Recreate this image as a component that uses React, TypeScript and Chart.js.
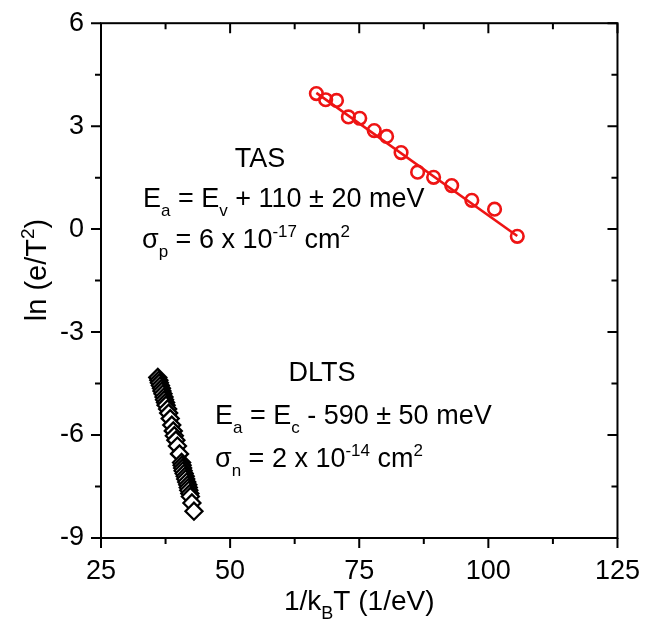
import React, { useEffect, useRef } from "react";
import { Chart, registerables } from "chart.js";

Chart.register(...registerables);

// ---- data ----
const tasX = [66.7, 68.5, 70.6, 72.9, 75.1, 77.9, 80.3, 83.1, 86.3, 89.4, 92.9, 96.8, 101.2, 105.6];
const tasY = [3.95, 3.77, 3.75, 3.27, 3.23, 2.87, 2.7, 2.23, 1.66, 1.51, 1.27, 0.84, 0.58, -0.21];
const tasFitX = [66.7, 105.6];
const tasFitY = [3.97, -0.2];
const dltsX = [36.0, 36.2, 36.3, 36.5, 36.7, 36.8, 37.0, 37.2, 37.3, 37.5, 37.6, 37.9, 38.1, 38.4, 38.7, 39.0, 39.2, 39.5, 39.8, 40.2, 40.6, 40.7, 40.8, 40.9, 41.1, 41.3, 41.4, 41.6, 41.8, 41.9, 42.0, 42.2, 42.3, 42.6, 43.0];
const dltsY = [-4.32, -4.4, -4.48, -4.56, -4.64, -4.72, -4.8, -4.89, -4.97, -5.05, -5.13, -5.24, -5.36, -5.52, -5.71, -5.88, -6.02, -6.15, -6.32, -6.55, -6.8, -6.88, -6.96, -7.04, -7.12, -7.2, -7.28, -7.37, -7.45, -7.53, -7.61, -7.7, -7.79, -7.98, -8.22];
const xTicks = [25, 50, 75, 100, 125];
const yTicks = [-9, -6, -3, 0, 3, 6];

const FONT = "'Liberation Sans', Arial, Helvetica, sans-serif";

type Seg = { t: string; k?: "sub" | "sup" };

function drawRich(ctx: CanvasRenderingContext2D, x: number, y: number, segs: Seg[], size: number, small: number, align: "left" | "center") {
  const fontOf = (s: Seg) => `${s.k ? small : size}px ${FONT}`;
  let total = 0;
  for (const s of segs) {
    ctx.font = fontOf(s);
    total += ctx.measureText(s.t).width;
  }
  let cx = align === "center" ? x - total / 2 : x;
  ctx.textAlign = "left";
  ctx.textBaseline = "alphabetic";
  for (const s of segs) {
    ctx.font = fontOf(s);
    const dy = s.k === "sub" ? size * 0.33 : s.k === "sup" ? -size * 0.4 : 0;
    ctx.fillText(s.t, cx, y + dy);
    cx += ctx.measureText(s.t).width;
  }
}

const framePlugin = {
  id: "framePlugin",
  afterDraw(chart: any) {
    const ctx: CanvasRenderingContext2D = chart.ctx;
    const { left, right, top, bottom } = chart.chartArea;
    const xs = chart.scales.x;
    const ys = chart.scales.y;
    ctx.save();
    ctx.strokeStyle = "#000";
    ctx.lineWidth = 2;
    ctx.strokeRect(left, top, right - left, bottom - top);
    const major = 10;
    const minor = 6;
    const xMinor = xTicks.slice(1).map((v, i) => (v + xTicks[i]) / 2);
    const yMinor = yTicks.slice(1).map((v, i) => (v + yTicks[i]) / 2);
    ctx.beginPath();
    for (const v of xTicks) {
      const p = xs.getPixelForValue(v);
      ctx.moveTo(p, bottom); ctx.lineTo(p, bottom + major);
      ctx.moveTo(p, top); ctx.lineTo(p, top + major);
    }
    for (const v of xMinor) {
      const p = xs.getPixelForValue(v);
      ctx.moveTo(p, bottom); ctx.lineTo(p, bottom + minor);
      ctx.moveTo(p, top); ctx.lineTo(p, top + minor);
    }
    for (const v of yTicks) {
      const p = ys.getPixelForValue(v);
      ctx.moveTo(left, p); ctx.lineTo(left - major, p);
      ctx.moveTo(right, p); ctx.lineTo(right - major, p);
    }
    for (const v of yMinor) {
      const p = ys.getPixelForValue(v);
      ctx.moveTo(left, p); ctx.lineTo(left - minor, p);
      ctx.moveTo(right, p); ctx.lineTo(right - minor, p);
    }
    ctx.stroke();

    ctx.fillStyle = "#000";
    // annotations
    drawRich(ctx, 260, 167, [{ t: "TAS" }], 27, 17, "center");
    drawRich(ctx, 143, 207, [{ t: "E" }, { t: "a", k: "sub" }, { t: " = E" }, { t: "v", k: "sub" }, { t: " + 110 ± 20 meV" }], 27, 17, "left");
    drawRich(ctx, 142, 248, [{ t: "σ" }, { t: "p", k: "sub" }, { t: " = 6 x 10" }, { t: "-17", k: "sup" }, { t: " cm" }, { t: "2", k: "sup" }], 27, 17, "left");
    drawRich(ctx, 322, 381, [{ t: "DLTS" }], 27, 17, "center");
    drawRich(ctx, 215, 424, [{ t: "E" }, { t: "a", k: "sub" }, { t: " = E" }, { t: "c", k: "sub" }, { t: " - 590 ± 50 meV" }], 27, 17, "left");
    drawRich(ctx, 215, 467, [{ t: "σ" }, { t: "n", k: "sub" }, { t: " = 2 x 10" }, { t: "-14", k: "sup" }, { t: " cm" }, { t: "2", k: "sup" }], 27, 17, "left");

    // axis titles
    drawRich(ctx, (left + right) / 2, 610, [{ t: "1/k" }, { t: "B", k: "sub" }, { t: "T (1/eV)" }], 28, 18, "center");
    ctx.save();
    ctx.translate(46, 270);
    ctx.rotate(-Math.PI / 2);
    drawRich(ctx, 0, 0, [{ t: "ln (e/T" }, { t: "2", k: "sup" }, { t: ")" }], 29, 19, "center");
    ctx.restore();
    ctx.restore();
  },
};

export default function App() {
  const ref = useRef<HTMLCanvasElement>(null);
  useEffect(() => {
    const chart = new Chart(ref.current as HTMLCanvasElement, {
      type: "scatter",
      data: {
        datasets: [
          {
            label: "TAS",
            data: tasX.map((x, i) => ({ x, y: tasY[i] })),
            pointStyle: "circle",
            pointRadius: 6.3,
            pointBorderWidth: 2.6,
            pointBorderColor: "rgb(238,20,20)",
            pointBackgroundColor: "rgba(0,0,0,0)",
            showLine: false,
            order: 1,
          },
          {
            label: "TAS fit",
            data: tasFitX.map((x, i) => ({ x, y: tasFitY[i] })),
            showLine: true,
            borderColor: "rgb(238,20,20)",
            borderWidth: 2.6,
            pointRadius: 0,
            order: 2,
          },
          {
            label: "DLTS",
            data: dltsX.map((x, i) => ({ x, y: dltsY[i] })),
            pointStyle: "rectRot",
            pointRadius: 8.5,
            pointBorderWidth: 2.3,
            pointBorderColor: "#000",
            pointBackgroundColor: "#fff",
            showLine: false,
            order: 3,
          },
        ],
      },
      options: {
        responsive: false,
        animation: false,
        layout: { padding: { left: 0, top: 19, right: 26, bottom: 0 } },
        plugins: { legend: { display: false }, tooltip: { enabled: false } },
        scales: {
          x: {
            type: "linear",
            min: 25,
            max: 125,
            afterBuildTicks: (s: any) => { s.ticks = xTicks.map((v) => ({ value: v })); },
            afterFit: (s: any) => { s.height = 92; },
            grid: { display: true, drawOnChartArea: false, drawTicks: true, tickLength: 10, color: "rgba(0,0,0,0)" },
            border: { display: false },
            ticks: { font: { size: 27, family: FONT }, color: "#000", padding: 7, maxRotation: 0 },
          },
          y: {
            type: "linear",
            min: -9,
            max: 6,
            afterBuildTicks: (s: any) => { s.ticks = yTicks.map((v) => ({ value: v })); },
            afterFit: (s: any) => { s.width = 101; },
            grid: { display: true, drawOnChartArea: false, drawTicks: true, tickLength: 10, color: "rgba(0,0,0,0)" },
            border: { display: false },
            ticks: { font: { size: 27, family: FONT }, color: "#000", padding: 7 },
          },
        },
      },
      plugins: [framePlugin],
    } as any);
    return () => chart.destroy();
  }, []);
  return (
    <div style={{ position: "absolute", left: 0, top: 0, width: 647, height: 630, background: "#fff" }}>
      <canvas ref={ref} width={647} height={630} style={{ display: "block" }} />
    </div>
  );
}
